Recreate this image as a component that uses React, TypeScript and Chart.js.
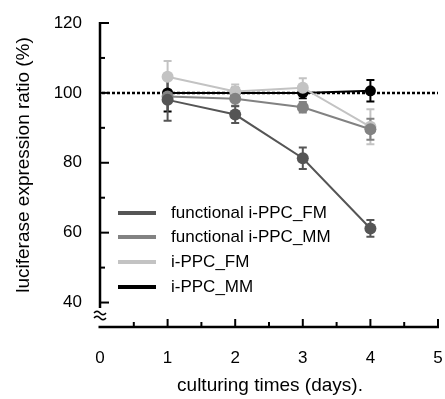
import React, { useEffect, useRef } from "react";
import { Chart, registerables } from "chart.js";

Chart.register(...registerables);

const days = [1, 2, 3, 4];
const seriesLabels = ["functional i-PPC_FM", "functional i-PPC_MM", "i-PPC_FM", "i-PPC_MM"];
const seriesColors = ["#555555", "#828282", "#c3c3c3", "#000000"];
const funcFM = [98, 93.8, 81.3, 61.2];
const funcFMErr = [6, 2.4, 3.1, 2.4];
const funcMM = [99, 98.3, 95.9, 89.6];
const funcMMErr = [1.5, 2, 1.5, 3];
const ippcFM = [104.6, 100.4, 101.5, 90.3];
const ippcFMErr = [4.5, 2, 2.7, 5];
const ippcMM = [100, 100, 100, 100.6];
const ippcMMErr = [5.3, 1.5, 1.5, 3.1];
const yMajorTicks = [40, 60, 80, 100, 120];
const yMinorTicks = [50, 70, 90, 110];
const xMajorTicks = [0, 1, 2, 3, 4, 5];
const xMinorTicks = [0.5, 1.5, 2.5, 3.5, 4.5];
const referenceLevel = 100;
const yTitle = "luciferase expression ratio (%)";
const xTitle = "culturing times (days).";

const FONT = "'Liberation Sans', Arial, sans-serif";

const allValues = [funcFM, funcMM, ippcFM, ippcMM];
const allErrors = [funcFMErr, funcMMErr, ippcFMErr, ippcMMErr];

const refLinePlugin = {
  id: "refLine",
  beforeDatasetsDraw(chart: any) {
    const { ctx, chartArea, scales } = chart;
    const y = scales.y.getPixelForValue(referenceLevel);
    ctx.save();
    ctx.strokeStyle = "#000";
    ctx.lineWidth = 2.5;
    ctx.setLineDash([3, 2]);
    ctx.beginPath();
    ctx.moveTo(chartArea.left + 2, y);
    ctx.lineTo(chartArea.right, y);
    ctx.stroke();
    ctx.restore();
  },
};

const errorBarPlugin = {
  id: "errorBars",
  beforeDatasetsDraw(chart: any) {
    const { ctx, scales } = chart;
    ctx.save();
    for (let d = allValues.length - 1; d >= 0; d--) {
      ctx.strokeStyle = seriesColors[d];
      ctx.lineWidth = 2;
      days.forEach((day, i) => {
        const x = scales.x.getPixelForValue(day);
        const yt = scales.y.getPixelForValue(allValues[d][i] + allErrors[d][i]);
        const yb = scales.y.getPixelForValue(allValues[d][i] - allErrors[d][i]);
        ctx.beginPath();
        ctx.moveTo(x, yt);
        ctx.lineTo(x, yb);
        ctx.moveTo(x - 4, yt);
        ctx.lineTo(x + 4, yt);
        ctx.moveTo(x - 4, yb);
        ctx.lineTo(x + 4, yb);
        ctx.stroke();
      });
    }
    ctx.restore();
  },
};

const axesPlugin = {
  id: "customAxes",
  afterDraw(chart: any) {
    const { ctx, chartArea, scales } = chart;
    const left = chartArea.left;
    const bottom = chartArea.bottom;
    ctx.save();
    ctx.strokeStyle = "#000";
    ctx.lineWidth = 2.5;
    ctx.lineCap = "butt";
    const yTop = scales.y.getPixelForValue(120);
    ctx.beginPath();
    ctx.moveTo(left, yTop - 1);
    ctx.lineTo(left, bottom - 19);
    ctx.stroke();
    ctx.beginPath();
    ctx.moveTo(left - 1.5, bottom);
    ctx.lineTo(chartArea.right + 1, bottom);
    ctx.stroke();
    ctx.lineWidth = 2;
    yMajorTicks.forEach((v) => {
      const y = scales.y.getPixelForValue(v);
      ctx.beginPath();
      ctx.moveTo(left, y);
      ctx.lineTo(left + 9, y);
      ctx.stroke();
    });
    yMinorTicks.forEach((v) => {
      const y = scales.y.getPixelForValue(v);
      ctx.beginPath();
      ctx.moveTo(left, y);
      ctx.lineTo(left + 5, y);
      ctx.stroke();
    });
    xMajorTicks.slice(1).forEach((v) => {
      const x = scales.x.getPixelForValue(v);
      ctx.beginPath();
      ctx.moveTo(x, bottom);
      ctx.lineTo(x, bottom - 8);
      ctx.stroke();
    });
    xMinorTicks.forEach((v) => {
      const x = scales.x.getPixelForValue(v);
      ctx.beginPath();
      ctx.moveTo(x, bottom);
      ctx.lineTo(x, bottom - 5);
      ctx.stroke();
    });
    ctx.lineWidth = 1.6;
    [bottom - 14, bottom - 9].forEach((cy) => {
      ctx.beginPath();
      for (let k = 0; k <= 12; k++) {
        const px = left - 6 + k;
        const py = cy - 1.8 * Math.sin((k / 12) * Math.PI * 2);
        if (k === 0) ctx.moveTo(px, py);
        else ctx.lineTo(px, py);
      }
      ctx.stroke();
    });
    ctx.font = `17px ${FONT}`;
    ctx.textBaseline = "middle";
    ctx.textAlign = "left";
    const legendYs = [213, 237, 262, 287];
    seriesLabels.forEach((label, i) => {
      ctx.strokeStyle = seriesColors[i];
      ctx.lineWidth = 4;
      ctx.beginPath();
      ctx.moveTo(118, legendYs[i]);
      ctx.lineTo(156, legendYs[i]);
      ctx.stroke();
      ctx.fillStyle = "#000";
      ctx.fillText(label, 171, legendYs[i]);
    });
    ctx.font = `19px ${FONT}`;
    ctx.textAlign = "center";
    ctx.fillStyle = "#000";
    ctx.fillText(xTitle, (chartArea.left + chartArea.right) / 2 + 1, 386);
    ctx.translate(24, 165);
    ctx.rotate(-Math.PI / 2);
    ctx.fillText(yTitle, 0, 0);
    ctx.restore();
  },
};

export default function App() {
  const ref = useRef<HTMLCanvasElement | null>(null);
  useEffect(() => {
    document.body.style.margin = "0";
    const canvas = ref.current;
    if (!canvas) return;
    const datasets = allValues.map((vals, i) => ({
      label: seriesLabels[i],
      data: days.map((d, j) => ({ x: d, y: vals[j] })),
      borderColor: seriesColors[i],
      backgroundColor: seriesColors[i],
      pointBackgroundColor: seriesColors[i],
      pointBorderWidth: 0,
      pointRadius: i === 3 ? 5.5 : 6,
      borderWidth: 2,
      tension: 0,
    }));
    const chart = new Chart(canvas, {
      type: "line",
      data: { datasets },
      options: {
        animation: false,
        responsive: false,
        devicePixelRatio: 1,
        layout: { padding: { top: 23, right: 7, left: 0, bottom: 0 } },
        plugins: { legend: { display: false }, tooltip: { enabled: false } },
        scales: {
          x: {
            type: "linear",
            min: 0,
            max: 5,
            afterBuildTicks: (s: any) => {
              s.ticks = xMajorTicks.map((v) => ({ value: v }));
            },
            afterFit: (s: any) => {
              s.height = 72;
              s.paddingLeft = 0;
              s.paddingRight = 0;
            },
            grid: { display: false, drawTicks: false },
            border: { display: false },
            ticks: { padding: 21, color: "#000", font: { size: 17, family: FONT }, maxRotation: 0 },
          },
          y: {
            type: "linear",
            min: 33,
            max: 120,
            afterBuildTicks: (s: any) => {
              s.ticks = yMajorTicks.map((v) => ({ value: v }));
            },
            afterFit: (s: any) => {
              s.width = 100;
              s.paddingTop = 0;
              s.paddingBottom = 0;
            },
            grid: { display: false, drawTicks: false },
            border: { display: false },
            ticks: { padding: 18, color: "#000", font: { size: 17, family: FONT } },
          },
        },
      },
      plugins: [refLinePlugin, errorBarPlugin, axesPlugin],
    });
    return () => chart.destroy();
  }, []);
  return (
    <div style={{ width: 445, height: 399, background: "#fff" }}>
      <canvas ref={ref} width={445} height={399} />
    </div>
  );
}
